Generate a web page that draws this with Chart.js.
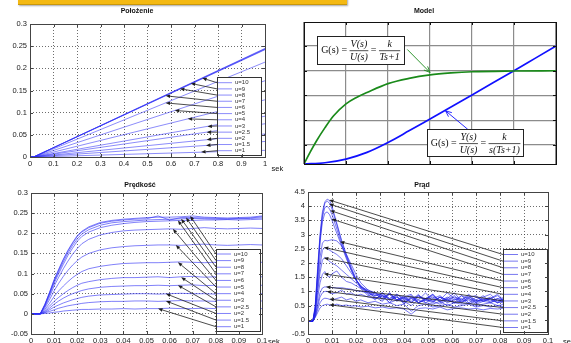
<!DOCTYPE html>
<html>
<head>
<meta charset="utf-8">
<title>Silnik DC</title>
<script src="https://cdn.jsdelivr.net/npm/chart.js@4.4.1/dist/chart.umd.min.js"></script>
<style>
  body { margin: 0; background: #fff; }
  #wrap { position: relative; width: 571px; height: 343px; overflow: hidden; }
  #wrap canvas { position: absolute; left: 0; top: 0; }
  .banner { position: absolute; left: 18px; top: -3px; width: 329px; height: 7px; background: #f4b912;
            border-bottom: 1px solid #c8970c; box-shadow: 1px 1px 2px rgba(0,0,0,0.35); }
</style>
</head>
<body>
<div id="wrap">
  <div class="banner"></div>
  <canvas id="polozenie" width="571" height="343"></canvas>
  <canvas id="model" width="571" height="343"></canvas>
  <canvas id="predkosc" width="571" height="343"></canvas>
  <canvas id="prad" width="571" height="343"></canvas>
</div>
<script>
const W = 571, H = 343;
const SANS = '"Liberation Sans", Arial, sans-serif';
const SERIF = '"Liberation Serif", "Times New Roman", serif';

const uLabels = ['u=10', 'u=9', 'u=8', 'u=7', 'u=6', 'u=5', 'u=4', 'u=3', 'u=2.5', 'u=2', 'u=1.5', 'u=1'];

// --- Położenie (position) ---
const posXTicks = [0, 0.1, 0.2, 0.3, 0.4, 0.5, 0.6, 0.7, 0.8, 0.9, 1];
const posYTicks = [0, 0.05, 0.1, 0.15, 0.2, 0.25, 0.3];
const posX = [0, 0.015, 1];
const posY = [
    [0, 0, 0.245], [0, 0, 0.244], [0, 0, 0.243], [0, 0, 0.242],
    [0, 0, 0.214], [0, 0, 0.172], [0, 0, 0.129], [0, 0, 0.092],
    [0, 0, 0.075], [0, 0, 0.052], [0, 0, 0.035], [0, 0, 0.015]
];
const posArrowX = [0.733, 0.684, 0.638, 0.577, 0.577, 0.616, 0.671, 0.755, 0.752, 0.752, 0.749, 0.728];
const posArrowY = [0.178, 0.166, 0.154, 0.138, 0.122, 0.105, 0.086, 0.069, 0.056, 0.039, 0.026, 0.011];

// --- Model ---
const modelXTicks = [0, 1, 2, 3, 4, 5, 6];
const modelYTicks = [0, 1, 2, 3, 4];
const greenX = [0, 0.15, 0.3, 0.5, 0.7, 1, 1.25, 1.5, 2, 2.5, 3, 3.5, 4, 5, 6];
const greenY = [-0.77, -0.28, 0.17, 0.7, 1.17, 1.66, 1.92, 2.12, 2.48, 2.69, 2.83, 2.91, 2.96, 2.99, 3.0];
const blueX = [0, 0.5, 1, 1.5, 2, 2.5, 3, 3.5, 4, 4.5, 5, 5.5, 6];
const blueY = [-0.77, -0.72, -0.57, -0.3, 0.1, 0.57, 1.05, 1.53, 2.02, 2.51, 3.0, 3.5, 4.0];

// --- Prędkość (speed) ---
const velXTicks = [0, 0.01, 0.02, 0.03, 0.04, 0.05, 0.06, 0.07, 0.08, 0.09, 0.1];
const velYTicks = [-0.05, 0, 0.05, 0.1, 0.15, 0.2, 0.25, 0.3];
const velX = [0, 0.004, 0.006, 0.008, 0.010, 0.012, 0.014, 0.016, 0.018, 0.020, 0.022, 0.025, 0.030, 0.035,
              0.040, 0.045, 0.050, 0.055, 0.060, 0.065, 0.070, 0.075, 0.080, 0.085, 0.090, 0.095, 0.100];
const velY = [
    [0, 0, 0.024, 0.053, 0.085, 0.111, 0.136, 0.158, 0.177, 0.194, 0.205, 0.216, 0.227, 0.232, 0.235, 0.237, 0.239, 0.240, 0.240, 0.241, 0.243, 0.240, 0.239, 0.238, 0.239, 0.240, 0.243],
    [0, 0, 0.023, 0.052, 0.083, 0.109, 0.134, 0.156, 0.175, 0.192, 0.203, 0.214, 0.225, 0.230, 0.233, 0.235, 0.236, 0.243, 0.233, 0.239, 0.239, 0.238, 0.237, 0.236, 0.237, 0.238, 0.241],
    [0, 0, 0.022, 0.050, 0.080, 0.105, 0.129, 0.151, 0.170, 0.186, 0.198, 0.209, 0.220, 0.226, 0.229, 0.231, 0.233, 0.234, 0.235, 0.236, 0.237, 0.236, 0.235, 0.235, 0.236, 0.237, 0.238],
    [0, 0, 0.020, 0.047, 0.076, 0.100, 0.123, 0.145, 0.163, 0.180, 0.192, 0.203, 0.214, 0.220, 0.224, 0.227, 0.229, 0.230, 0.231, 0.232, 0.232, 0.233, 0.233, 0.234, 0.233, 0.234, 0.235],
    [0, 0, 0.018, 0.042, 0.069, 0.091, 0.112, 0.131, 0.148, 0.162, 0.174, 0.185, 0.196, 0.202, 0.206, 0.208, 0.209, 0.210, 0.211, 0.210, 0.212, 0.214, 0.212, 0.211, 0.212, 0.213, 0.212],
    [0, 0, 0.015, 0.035, 0.057, 0.076, 0.093, 0.108, 0.121, 0.132, 0.141, 0.150, 0.159, 0.164, 0.167, 0.169, 0.170, 0.171, 0.171, 0.170, 0.172, 0.173, 0.171, 0.170, 0.171, 0.172, 0.171],
    [0, 0, 0.011, 0.026, 0.043, 0.057, 0.069, 0.080, 0.090, 0.098, 0.105, 0.112, 0.118, 0.122, 0.125, 0.126, 0.127, 0.127, 0.128, 0.129, 0.128, 0.127, 0.128, 0.129, 0.128, 0.127, 0.128],
    [0, 0, 0.008, 0.019, 0.031, 0.041, 0.050, 0.058, 0.065, 0.071, 0.076, 0.080, 0.085, 0.088, 0.090, 0.090, 0.091, 0.092, 0.090, 0.092, 0.093, 0.091, 0.092, 0.092, 0.091, 0.092, 0.092],
    [0, 0, 0.006, 0.014, 0.024, 0.032, 0.039, 0.045, 0.050, 0.054, 0.058, 0.062, 0.066, 0.068, 0.069, 0.070, 0.070, 0.071, 0.070, 0.071, 0.072, 0.070, 0.071, 0.071, 0.070, 0.071, 0.071],
    [0, 0, 0.004, 0.010, 0.017, 0.022, 0.027, 0.031, 0.035, 0.038, 0.041, 0.044, 0.047, 0.048, 0.049, 0.050, 0.050, 0.049, 0.050, 0.051, 0.050, 0.050, 0.049, 0.050, 0.050, 0.050, 0.050],
    [0, 0, 0.003, 0.006, 0.010, 0.014, 0.017, 0.020, 0.022, 0.024, 0.026, 0.028, 0.030, 0.031, 0.031, 0.032, 0.032, 0.031, 0.032, 0.033, 0.032, 0.032, 0.031, 0.032, 0.032, 0.032, 0.032],
    [0, 0, 0.001, 0.002, 0.004, 0.005, 0.007, 0.008, 0.009, 0.010, 0.011, 0.011, 0.012, 0.012, 0.013, 0.012, 0.013, 0.013, 0.014, 0.013, 0.013, 0.014, 0.013, 0.013, 0.013, 0.014, 0.013]
];
const velArrowX = [0.0689, 0.0671, 0.065, 0.0636, 0.0614, 0.0627, 0.0636, 0.065, 0.0636, 0.0584, 0.0584, 0.055];
const velArrowY = [0.243, 0.239, 0.236, 0.232, 0.211, 0.171, 0.128, 0.091, 0.071, 0.05, 0.032, 0.013];

// --- Prąd (current) ---
const curXTicks = [0, 0.01, 0.02, 0.03, 0.04, 0.05, 0.06, 0.07, 0.08, 0.09, 0.1];
const curYTicks = [-0.5, 0, 0.5, 1, 1.5, 2, 2.5, 3, 3.5, 4, 4.5];
const curX = [0, 0.002, 0.003, 0.004, 0.005, 0.006, 0.007, 0.008, 0.009, 0.010,
              0.012, 0.014, 0.016, 0.018, 0.020, 0.022, 0.025, 0.028, 0.031, 0.034,
              0.037, 0.040, 0.043, 0.046, 0.049, 0.052, 0.055, 0.058, 0.061, 0.064,
              0.067, 0.070, 0.073, 0.076, 0.079, 0.082, 0.086, 0.090, 0.095, 0.100];
const curY = [
    [-0.05, -0.05, 0.5, 1.8, 3.0, 3.8, 4.15, 4.25, 4.2, 4.0, 3.4, 2.8, 2.3, 1.85, 1.45, 1.1, 0.85, 0.95, 0.7, 0.9,
     0.65, 0.8, 0.6, 0.85, 0.7, 0.9, 0.6, 0.75, 0.95, 0.65, 0.8, 0.7, 0.85, 0.6, 0.75, 0.7, 0.8, 0.65, 0.8, 0.7],
    [-0.05, -0.05, 0.45, 1.7, 2.9, 3.7, 4.1, 4.18, 4.1, 3.9, 3.35, 2.75, 2.25, 1.8, 1.4, 1.15, 0.9, 0.7, 0.95, 0.75,
     0.85, 0.55, 0.8, 0.7, 0.95, 0.65, 0.8, 0.7, 0.6, 0.85, 0.75, 0.6, 0.8, 0.9, 0.65, 0.75, 0.6, 0.8, 0.7, 0.75],
    [-0.05, -0.05, 0.4, 1.6, 2.8, 3.6, 3.95, 4.0, 3.9, 3.7, 3.2, 2.65, 2.2, 1.75, 1.4, 1.2, 0.95, 0.8, 0.65, 0.95,
     0.7, 0.8, 0.9, 0.6, 0.75, 0.85, 0.7, 0.95, 0.75, 0.6, 0.8, 0.85, 0.65, 0.75, 0.85, 0.6, 0.75, 0.7, 0.85, 0.7],
    [-0.05, -0.05, 0.35, 1.5, 2.7, 3.45, 3.75, 3.8, 3.7, 3.5, 3.05, 2.6, 2.15, 1.75, 1.4, 1.15, 1.0, 0.75, 0.85, 0.6,
     0.9, 0.75, 0.65, 0.9, 0.6, 0.75, 0.85, 0.65, 0.8, 0.7, 0.9, 0.65, 0.75, 0.7, 0.6, 0.85, 0.7, 0.75, 0.65, 0.8],
    [-0.05, -0.05, 0.35, 1.3, 2.2, 2.7, 2.8, 2.78, 2.8, 2.82, 2.78, 2.6, 2.3, 1.95, 1.6, 1.3, 1.05, 0.9, 0.75, 0.95,
     0.7, 0.85, 0.6, 0.8, 0.75, 0.9, 0.65, 0.8, 0.7, 0.85, 0.6, 0.8, 0.7, 0.75, 0.9, 0.65, 0.7, 0.8, 0.7, 0.75],
    [-0.05, -0.05, 0.3, 1.1, 1.9, 2.45, 2.55, 2.5, 2.45, 2.4, 2.3, 2.15, 1.9, 1.65, 1.4, 1.2, 1.0, 0.85, 0.95, 0.7,
     0.8, 0.6, 0.75, 0.85, 0.7, 0.6, 0.8, 0.7, 0.85, 0.6, 0.75, 0.65, 0.7, 0.8, 0.6, 0.7, 0.75, 0.6, 0.7, 0.65],
    [-0.05, -0.05, 0.25, 0.95, 1.65, 2.1, 2.2, 2.15, 2.05, 2.0, 1.9, 1.75, 1.6, 1.45, 1.3, 1.15, 1.05, 0.95, 0.8, 0.9,
     0.7, 0.75, 0.85, 0.6, 0.7, 0.8, 0.65, 0.75, 0.6, 0.7, 0.85, 0.6, 0.7, 0.65, 0.75, 0.6, 0.7, 0.65, 0.7, 0.6],
    [-0.05, -0.05, 0.2, 0.75, 1.3, 1.6, 1.7, 1.55, 1.5, 1.62, 1.72, 1.5, 1.35, 1.3, 1.2, 1.1, 1.0, 0.95, 0.85, 0.75,
     0.9, 0.7, 0.8, 0.6, 0.75, 0.65, 0.8, 0.6, 0.7, 0.75, 0.55, 0.7, 0.65, 0.75, 0.6, 0.65, 0.7, 0.6, 0.65, 0.6],
    [-0.05, -0.05, 0.15, 0.55, 0.95, 1.12, 1.16, 1.15, 1.13, 1.14, 1.12, 1.13, 1.1, 1.08, 1.02, 1.0, 0.95, 0.85, 0.9, 0.7,
     0.8, 0.65, 0.75, 0.6, 0.7, 0.65, 0.55, 0.7, 0.6, 0.65, 0.7, 0.55, 0.65, 0.6, 0.7, 0.55, 0.6, 0.65, 0.55, 0.6],
    [-0.05, -0.05, 0.12, 0.45, 0.8, 0.95, 1.0, 1.0, 0.95, 0.92, 0.95, 1.05, 0.9, 0.95, 0.85, 0.9, 0.8, 0.75, 0.85, 0.6,
     0.7, 0.65, 0.5, 0.7, 0.6, 0.55, 0.65, 0.5, 0.6, 0.55, 0.6, 0.5, 0.55, 0.6, 0.5, 0.55, 0.5, 0.55, 0.5, 0.55],
    [-0.05, -0.05, 0.1, 0.35, 0.6, 0.72, 0.76, 0.75, 0.72, 0.7, 0.75, 0.8, 0.7, 0.75, 0.65, 0.7, 0.6, 0.65, 0.55, 0.6,
     0.5, 0.55, 0.3, 0.5, 0.55, 0.45, 0.5, 0.55, 0.45, 0.5, 0.55, 0.45, 0.5, 0.45, 0.5, 0.45, 0.5, 0.45, 0.5, 0.5],
    [-0.05, -0.05, 0.08, 0.25, 0.42, 0.5, 0.53, 0.55, 0.52, 0.5, 0.55, 0.5, 0.52, 0.48, 0.5, 0.45, 0.48, 0.42, 0.45, 0.4,
     0.42, 0.38, 0.2, 0.4, 0.42, 0.38, 0.45, 0.35, 0.4, 0.42, 0.38, 0.4, 0.35, 0.4, 0.38, 0.42, 0.38, 0.4, 0.45, 0.4]
];
const curArrowX = [0.0088, 0.0088, 0.0092, 0.0098, 0.0133, 0.0066, 0.0066, 0.0066, 0.0075, 0.0078, 0.0089, 0.0089];
const curArrowY = [4.22, 4.08, 3.85, 3.55, 2.75, 2.55, 2.18, 1.62, 1.16, 1.0, 0.73, 0.53];

// helpers
function lineSet(xs, ys, color, width, smooth) {
    return {
        data: ys.map((y, i) => ({ x: xs[i], y: y })),
        borderColor: color,
        backgroundColor: color,
        borderWidth: width,
        pointRadius: 0,
        fill: false,
        tension: 0,
        cubicInterpolationMode: smooth ? 'monotone' : 'default'
    };
}

// axis box sizes are fixed so the plot area lands exactly where the layout padding says
function axisOpts(a, grid) {
    return {
        type: 'linear',
        min: a.min,
        max: a.max,
        afterBuildTicks: s => { s.ticks = a.ticks.map(v => ({ value: v })); },
        afterFit: s => { if (s.isHorizontal()) s.height = a.size; else s.width = a.size; },
        ticks: {
            display: a.labels !== false,
            padding: a.pad || 3,
            color: '#1a1a1a',
            font: { family: SANS, size: 7.5 },
            autoSkip: false,
            maxRotation: 0,
            callback: v => String(Math.round(v * 10000) / 10000)
        },
        grid: { drawTicks: false, color: grid.color, lineWidth: grid.width },
        border: { display: false, dash: grid.dash }
    };
}

function arrow(ctx, x0, y0, x1, y1, color, filled) {
    const ang = Math.atan2(y1 - y0, x1 - x0);
    const len = filled ? 4.5 : 6, half = filled ? 1.8 : 2.6;
    const bx = x1 - len * Math.cos(ang), by = y1 - len * Math.sin(ang);
    ctx.strokeStyle = color;
    ctx.fillStyle = color;
    ctx.beginPath();
    ctx.moveTo(x0, y0);
    ctx.lineTo(filled ? bx : x1, filled ? by : y1);
    ctx.stroke();
    const lx = bx + half * Math.sin(ang), ly = by - half * Math.cos(ang);
    const rx = bx - half * Math.sin(ang), ry = by + half * Math.cos(ang);
    ctx.beginPath();
    if (filled) {
        ctx.moveTo(x1, y1); ctx.lineTo(lx, ly); ctx.lineTo(rx, ry); ctx.closePath(); ctx.fill();
    } else {
        ctx.moveTo(lx, ly); ctx.lineTo(x1, y1); ctx.lineTo(rx, ry); ctx.stroke();
    }
}

function decor(cfg) {
    return {
        id: 'decor',
        afterDatasetsDraw(chart) {
            const ctx = chart.ctx;
            const a = chart.chartArea;
            const sx = chart.scales.x, sy = chart.scales.y;
            ctx.save();
            if (cfg.legend) {
                const L = cfg.legend;
                const step = (L.last - L.first) / (uLabels.length - 1);
                ctx.lineWidth = 0.8;
                uLabels.forEach((lab, i) => {
                    arrow(ctx, L.left, L.first + i * step,
                          sx.getPixelForValue(cfg.arrowX[i]), sy.getPixelForValue(cfg.arrowY[i]), '#1e1e1e', true);
                });
                ctx.fillStyle = '#fff';
                ctx.fillRect(L.left, L.top, L.width, L.height);
                ctx.strokeStyle = '#333';
                ctx.lineWidth = 1;
                ctx.strokeRect(L.left + 0.5, L.top + 0.5, L.width, L.height);
                ctx.font = '6px ' + SANS;
                ctx.textBaseline = 'middle';
                ctx.textAlign = 'left';
                uLabels.forEach((lab, i) => {
                    const y = L.first + i * step;
                    ctx.strokeStyle = cfg.lineColor;
                    ctx.beginPath();
                    ctx.moveTo(L.left + 1, y);
                    ctx.lineTo(L.left + 15, y);
                    ctx.stroke();
                    ctx.fillStyle = '#333';
                    ctx.fillText(lab, L.left + 18, y);
                });
            }
            if (cfg.extra) cfg.extra(chart, ctx);

            // frame with inward ticks
            ctx.strokeStyle = cfg.frameColor;
            ctx.lineWidth = 1;
            ctx.strokeRect(a.left + 0.5, a.top + 0.5, a.right - a.left, a.bottom - a.top);
            ctx.beginPath();
            cfg.x.ticks.forEach(v => {
                const px = Math.round(sx.getPixelForValue(v)) + 0.5;
                ctx.moveTo(px, a.bottom); ctx.lineTo(px, a.bottom - 3);
                ctx.moveTo(px, a.top); ctx.lineTo(px, a.top + 3);
            });
            cfg.y.ticks.forEach(v => {
                const py = Math.round(sy.getPixelForValue(v)) + 0.5;
                ctx.moveTo(a.left, py); ctx.lineTo(a.left + 3, py);
                ctx.moveTo(a.right, py); ctx.lineTo(a.right - 3, py);
            });
            ctx.stroke();
            ctx.restore();
        },
        afterDraw(chart) {
            const ctx = chart.ctx;
            ctx.save();
            ctx.fillStyle = '#111';
            ctx.textBaseline = 'middle';
            ctx.textAlign = 'center';
            ctx.font = 'bold 7px ' + SANS;
            ctx.fillText(cfg.title[0], cfg.title[1], cfg.title[2]);
            if (cfg.sek) {
                ctx.textAlign = 'left';
                ctx.font = '7.5px ' + SANS;
                ctx.fillText('sek', cfg.sek[0], cfg.sek[1]);
            }
            ctx.restore();
        }
    };
}

function panel(id, cfg) {
    return new Chart(document.getElementById(id), {
        type: 'line',
        data: { datasets: cfg.datasets },
        options: {
            responsive: false,
            animation: false,
            devicePixelRatio: 1,
            events: [],
            layout: { padding: {
                left: cfg.area[0] - cfg.y.size,
                top: cfg.area[1],
                right: W - cfg.area[2],
                bottom: H - cfg.area[3] - cfg.x.size
            } },
            plugins: { legend: { display: false }, tooltip: { enabled: false } },
            scales: { x: axisOpts(cfg.x, cfg.grid), y: axisOpts(cfg.y, cfg.grid) }
        },
        plugins: [decor(cfg)]
    });
}

const dotted = { color: 'rgba(60,60,60,0.75)', width: 1, dash: [1, 2] };
const solid = { color: '#8c8c8c', width: 1.2, dash: [] };

// Położenie
const posColor = 'rgba(45,45,245,0.55)';
panel('polozenie', {
    area: [30, 24, 265, 157],
    x: { min: 0, max: 1, ticks: posXTicks, pad: 2, size: 12 },
    y: { min: 0, max: 0.3, ticks: posYTicks, pad: 3, size: 30 },
    grid: dotted,
    frameColor: '#444',
    datasets: posY.map(ys => lineSet(posX, ys, posColor, 1)),
    lineColor: posColor,
    legend: { left: 217, top: 77, width: 44, height: 78, first: 82.7, last: 150.7 },
    arrowX: posArrowX, arrowY: posArrowY,
    title: ['Położenie', 137, 11.5],
    sek: [271.5, 168.5]
});

// Model
const formulas = [
    { x0: 0.31, x1: 2.39, y0: 4.39, y1: 3.27, lhs: 'G(s) =', n1: 'V(s)', d1: 'U(s)', n2: 'k', d2: 'Ts+1' },
    { x0: 2.94, x1: 5.23, y0: 0.63, y1: -0.48, lhs: 'G(s) =', n1: 'Y(s)', d1: 'U(s)', n2: 'k', d2: 's(Ts+1)' }
];
const modelArrows = [
    { x0: 2.46, y0: 3.86, x1: 3.0, y1: 2.93, color: '#1a8a1a' },
    { x0: 3.9, y0: 0.63, x1: 3.37, y1: 1.38, color: '#1010ff' }
];

function drawFormula(ctx, f, sx, sy) {
    const l = sx.getPixelForValue(f.x0), r = sx.getPixelForValue(f.x1);
    const t = sy.getPixelForValue(f.y0), b = sy.getPixelForValue(f.y1);
    ctx.fillStyle = '#fff';
    ctx.fillRect(l, t, r - l, b - t);
    ctx.strokeStyle = '#222';
    ctx.lineWidth = 1;
    ctx.strokeRect(Math.round(l) + 0.5, Math.round(t) + 0.5, Math.round(r - l), Math.round(b - t));
    const norm = '10px ' + SERIF, ital = 'italic 10px ' + SERIF;
    ctx.font = norm;
    const wl = ctx.measureText(f.lhs).width, we = ctx.measureText('=').width;
    ctx.font = ital;
    const w1 = Math.max(ctx.measureText(f.n1).width, ctx.measureText(f.d1).width) + 1;
    const w2 = Math.max(ctx.measureText(f.n2).width, ctx.measureText(f.d2).width) + 1;
    const gap = 2.5;
    const total = wl + w1 + we + w2 + 3 * gap;
    let x = l + (r - l - total) / 2;
    const mid = (t + b) / 2 + 0.5;
    ctx.fillStyle = '#111';
    ctx.textBaseline = 'middle';
    ctx.textAlign = 'left';
    ctx.font = norm;
    ctx.fillText(f.lhs, x, mid);
    x += wl + gap;
    const frac = (num, den, w) => {
        ctx.font = ital;
        ctx.textAlign = 'center';
        ctx.fillText(num, x + w / 2, mid - 6.5);
        ctx.fillText(den, x + w / 2, mid + 7);
        ctx.lineWidth = 0.8;
        ctx.beginPath();
        ctx.moveTo(x, mid);
        ctx.lineTo(x + w, mid);
        ctx.stroke();
        ctx.textAlign = 'left';
    };
    frac(f.n1, f.d1, w1);
    x += w1 + gap;
    ctx.font = norm;
    ctx.fillText('=', x, mid);
    x += we + gap;
    frac(f.n2, f.d2, w2);
}

panel('model', {
    area: [304, 22, 556, 164],
    x: { min: 0, max: 6, ticks: modelXTicks, labels: false, size: 0 },
    y: { min: -0.77, max: 4.97, ticks: modelYTicks, labels: false, size: 0 },
    grid: solid,
    frameColor: '#111',
    datasets: [
        lineSet(greenX, greenY, '#1a8a1a', 1.7, true),
        lineSet(blueX, blueY, '#1010ff', 1.7, true)
    ],
    extra: (chart, ctx) => {
        const sx = chart.scales.x, sy = chart.scales.y;
        ctx.lineWidth = 0.9;
        modelArrows.forEach(m => arrow(ctx, sx.getPixelForValue(m.x0), sy.getPixelForValue(m.y0),
                                       sx.getPixelForValue(m.x1), sy.getPixelForValue(m.y1), m.color, false));
        formulas.forEach(f => drawFormula(ctx, f, sx, sy));
    },
    title: ['Model', 424, 11.5]
});

// Prędkość
const velColor = 'rgba(45,45,245,0.6)';
panel('predkosc', {
    area: [31, 193, 262, 334],
    x: { min: 0, max: 0.1, ticks: velXTicks, pad: 2, size: 9 },
    y: { min: -0.05, max: 0.3, ticks: velYTicks, pad: 3, size: 31 },
    grid: dotted,
    frameColor: '#444',
    datasets: velY.map(ys => lineSet(velX, ys, velColor, 1)),
    lineColor: velColor,
    legend: { left: 216, top: 249, width: 44, height: 82, first: 254, last: 326.7 },
    arrowX: velArrowX, arrowY: velArrowY,
    title: ['Prędkość', 140, 185],
    sek: [268, 341.5]
});

// Prąd
const curColor = 'rgba(30,30,230,0.6)';
panel('prad', {
    area: [308, 192, 548, 334],
    x: { min: 0, max: 0.1, ticks: curXTicks, pad: 2, size: 9 },
    y: { min: -0.5, max: 4.5, ticks: curYTicks, pad: 3, size: 30 },
    grid: dotted,
    frameColor: '#444',
    datasets: curY.map(ys => lineSet(curX, ys, curColor, 1)),
    lineColor: curColor,
    legend: { left: 503, top: 249, width: 44, height: 83, first: 254.5, last: 327.5 },
    arrowX: curArrowX, arrowY: curArrowY,
    title: ['Prąd', 422, 185],
    sek: [563, 342]
});
</script>
</body>
</html>
